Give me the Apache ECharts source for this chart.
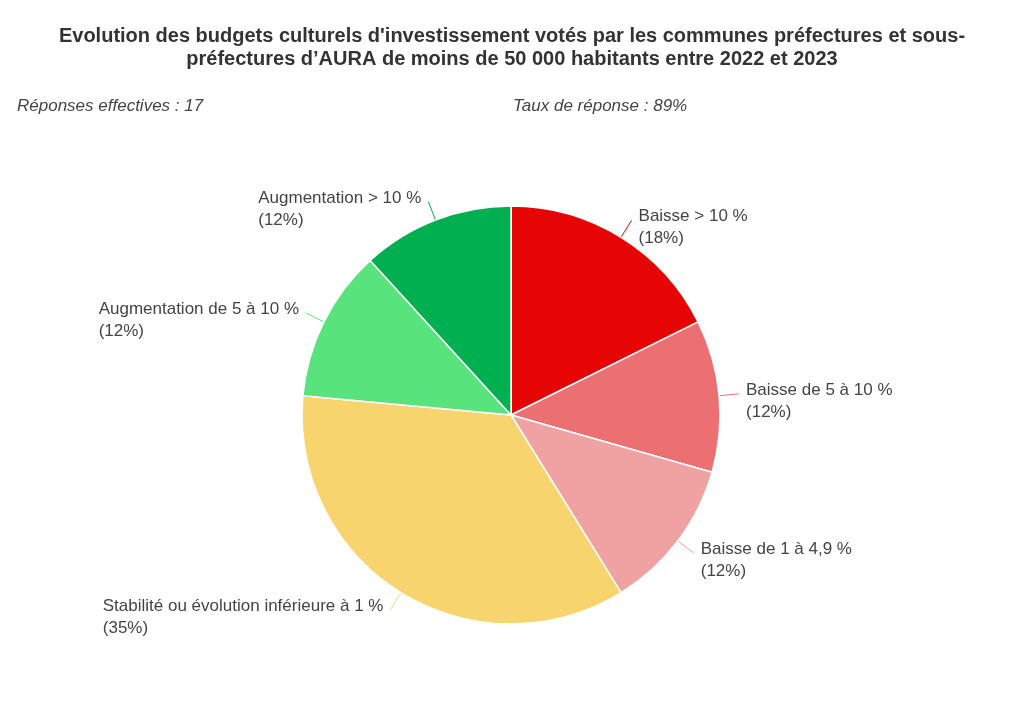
<!DOCTYPE html>
<html>
<head>
<meta charset="utf-8">
<script src="https://cdn.jsdelivr.net/npm/echarts@6/dist/echarts.min.js"></script>
<style>
  html, body { margin: 0; padding: 0; background: #fff; }
  #chart { width: 1024px; height: 709px; }
</style>
</head>
<body>
<div id="chart"></div>
<script>
let categories = [
  'Baisse > 10 %',
  'Baisse de 5 à 10 %',
  'Baisse de 1 à 4,9 %',
  'Stabilité ou évolution inférieure à 1 %',
  'Augmentation de 5 à 10 %',
  'Augmentation > 10 %'
];
let counts = [3, 2, 2, 6, 2, 2];
let colors = ['#e50505', '#ec7072', '#f0a1a1', '#f8d46e', '#58e37c', '#00b050'];

let titleText = "Evolution des budgets culturels d'investissement votés par les communes préfectures et sous-\npréfectures d’AURA de moins de 50 000 habitants entre 2022 et 2023";
let leftNote = 'Réponses effectives : 17';
let rightNote = 'Taux de réponse : 89%';

let chart = echarts.init(document.getElementById('chart'));

let option = {
  backgroundColor: '#fff',
  textStyle: { fontFamily: 'Liberation Sans, Arial, sans-serif' },
  title: [
    {
      text: titleText,
      left: 'center',
      top: 20,
      textStyle: { fontSize: 20, fontWeight: 'bold', color: '#333', lineHeight: 23, fontFamily: 'Liberation Sans' }
    },
    {
      text: leftNote,
      left: 12,
      top: 93,
      textStyle: { fontSize: 17, fontWeight: 'normal', fontStyle: 'italic', color: '#444', fontFamily: 'Liberation Sans' }
    },
    {
      text: rightNote,
      left: 508,
      top: 93,
      textStyle: { fontSize: 17, fontWeight: 'normal', fontStyle: 'italic', color: '#444', fontFamily: 'Liberation Sans' }
    }
  ],
  series: [{
    type: 'pie',
    center: [511, 415],
    radius: 209,
    startAngle: 90,
    clockwise: true,
    animation: false,
    itemStyle: { borderColor: '#fff', borderWidth: 1.5 },
    label: {
      show: true,
      position: 'outside',
      color: '#444',
      fontSize: 17,
      lineHeight: 22,
      padding: [15, 0, 0, 0],
      distanceToLabelLine: 7,
      fontFamily: 'Liberation Sans',
      formatter: p => '{a|' + p.name + '}\n{a|(' + Math.round(p.percent) + '%)}',
      rich: { a: { align: 'left', fontSize: 17, lineHeight: 22, color: '#444', fontFamily: 'Liberation Sans' } }
    },
    labelLine: { show: true, length: 20, length2: 0, lineStyle: { width: 1 } },
    data: categories.map((name, i) => ({
      name: name,
      value: counts[i],
      itemStyle: { color: colors[i] }
    }))
  }]
};

chart.setOption(option);
</script>
</body>
</html>
